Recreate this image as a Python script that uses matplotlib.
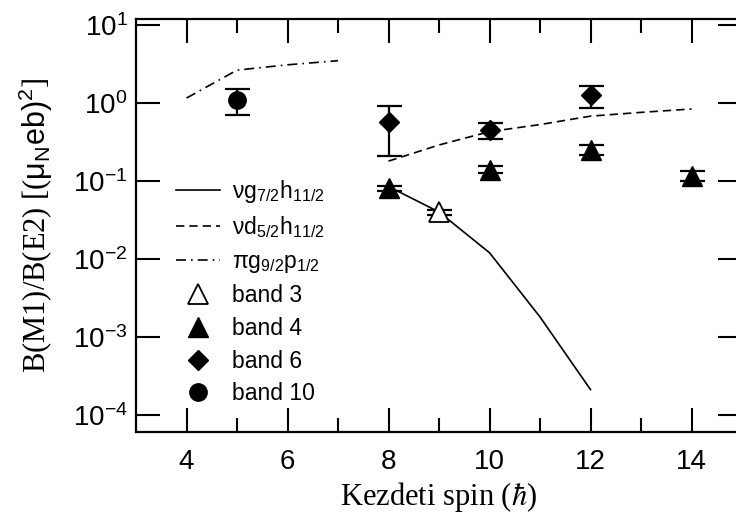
import numpy as np
import matplotlib
matplotlib.use('Agg')
import matplotlib.pyplot as plt
from matplotlib.ticker import FixedLocator, NullLocator, FixedFormatter

# sans-serif math for tick labels, legend entries and units
plt.rcParams['font.family'] = ['Liberation Sans', 'DejaVu Sans']
plt.rcParams['mathtext.fontset'] = 'custom'
plt.rcParams['mathtext.rm'] = 'Liberation Sans'
plt.rcParams['mathtext.it'] = 'Liberation Sans:italic'
plt.rcParams['mathtext.bf'] = 'Liberation Sans:bold'

# calculated B(M1)/B(E2) curves
spin_vg = [8, 9, 10, 11, 12]
ratio_vg = [0.085, 0.040, 0.0120, 0.0018, 0.00021]
spin_vd = [8, 9, 10, 11, 12, 13, 14]
ratio_vd = [0.18, 0.29, 0.43, 0.53, 0.68, 0.76, 0.84]
spin_pg = [4, 5, 6, 7]
ratio_pg = [1.16, 2.65, 3.10, 3.50]

# measured values with errors
spin_b3 = [9]
ratio_b3 = [0.040]
err_b3 = [0.003]
spin_b4 = [8, 10, 12, 14]
ratio_b4 = [0.081, 0.140, 0.250, 0.117]
err_b4 = [0.006, 0.015, 0.036, 0.017]
spin_b6 = [8, 10, 12]
ratio_b6 = [0.57, 0.45, 1.27]
err_b6 = [0.36, 0.10, 0.40]
spin_b10 = [5]
ratio_b10 = [1.10]
err_b10 = [0.40]

fig = plt.figure(figsize=(7.36, 5.14), dpi=100)
# right spine sits just past the figure edge
ax = fig.add_axes([136 / 736, 82 / 514, 606 / 736, 412.7 / 514])

lw = 1.2
ax.plot(spin_vg, ratio_vg, color='black', lw=lw, ls='-',
        label=r'$\mathrm{\nu g_{7/2}h_{11/2}}$')
ax.plot(spin_vd, ratio_vd, color='black', lw=lw, ls=(0, (5, 3)),
        label=r'$\mathrm{\nu d_{5/2}h_{11/2}}$')
ax.plot(spin_pg, ratio_pg, color='black', lw=lw, ls=(0, (6, 3, 1, 3)),
        label=r'$\mathrm{\pi g_{9/2}p_{1/2}}$')

eb = dict(fmt='none', ecolor='black', elinewidth=1.6, capsize=9, capthick=1.6)
for xs, ys, es in [(spin_b3, ratio_b3, err_b3), (spin_b4, ratio_b4, err_b4),
                   (spin_b6, ratio_b6, err_b6), (spin_b10, ratio_b10, err_b10)]:
    ax.errorbar(xs, ys, yerr=es, **eb)

ax.plot(spin_b3, ratio_b3, ls='none', marker='^', ms=14, mfc='white',
        mec='black', mew=1.3, label='band 3')
ax.plot(spin_b4, ratio_b4, ls='none', marker='^', ms=14, color='black',
        label='band 4')
ax.plot(spin_b6, ratio_b6, ls='none', marker='D', ms=10, color='black',
        label='band 6')
ax.plot(spin_b10, ratio_b10, ls='none', marker='o', ms=12.5, color='black',
        label='band 10')

ax.set_yscale('log')
ax.set_xlim(3, 15)
ax.set_ylim(6.0e-5, 11.9)

ax.xaxis.set_major_locator(FixedLocator([4, 6, 8, 10, 12, 14]))
ax.xaxis.set_minor_locator(FixedLocator([5, 7, 9, 11, 13]))
ax.xaxis.set_major_formatter(FixedFormatter(['4', '6', '8', '10', '12', '14']))

decades = [1e-4, 1e-3, 1e-2, 1e-1, 1e0, 1e1]
ax.yaxis.set_major_locator(FixedLocator(decades))
ax.yaxis.set_minor_locator(NullLocator())
ax.yaxis.set_major_formatter(FixedFormatter(
    [r'$\mathrm{10^{%d}}$' % int(np.log10(d)) for d in decades]))

ax.tick_params(which='both', direction='in', top=True, right=True, width=1.5)
ax.tick_params(which='major', length=17, labelsize=20)
ax.tick_params(axis='x', which='major', pad=12)
ax.tick_params(axis='y', which='major', pad=6)
ax.tick_params(which='minor', length=10)
for s in ax.spines.values():
    s.set_linewidth(1.6)

ax.set_xlabel(r'Kezdeti spin ($\hbar$)', fontsize=22,
              fontfamily='Liberation Serif', math_fontfamily='stix', labelpad=4)
ax.set_ylabel(r'B(M1)/B(E2) [($\mathrm{\mu_N eb)^2}$]', fontsize=22,
              fontfamily='Liberation Serif', labelpad=13)

ax.legend(loc='lower left', bbox_to_anchor=(0.066, 0.065), frameon=False,
          fontsize=16.5, borderpad=0, borderaxespad=0, handlelength=1.9,
          handletextpad=0.55, labelspacing=0.42)

fig.savefig('out.png', dpi=100)
